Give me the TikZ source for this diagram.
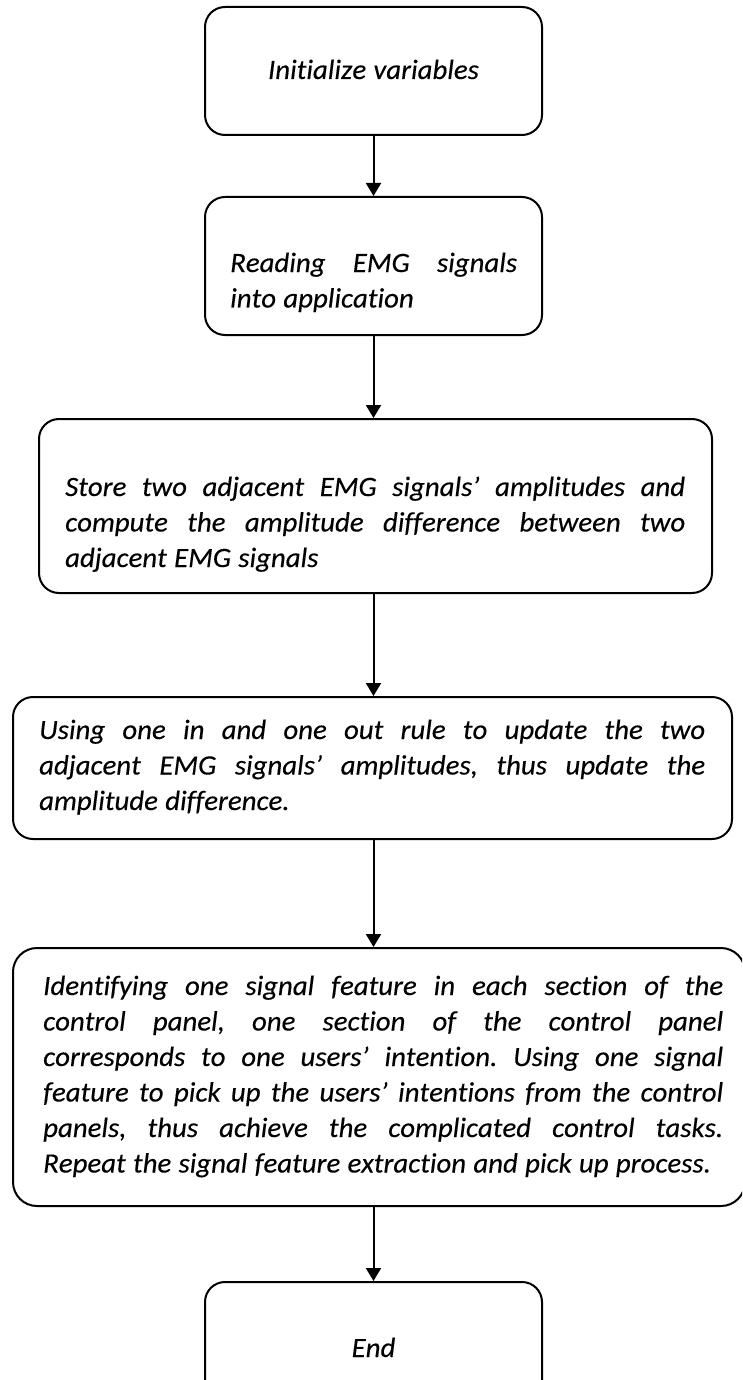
\documentclass[tikz,border=0pt]{standalone}
\usepackage{fontspec}
\setmainfont{Carlito}[Ligatures={NoCommon}, Kerning=Off, FakeStretch=1.03, FakeBold=0.25]
\usetikzlibrary{arrows.meta}
\newcommand\jline[2]{\leavevmode\hbox to #1{\frenchspacing\spaceskip=0.26em plus 1fil\relax #2}}
\tikzset{
  box/.style={draw, line width=2pt, rounded corners=20pt, inner sep=0pt},
  txt/.style={inner sep=0pt, font=\fontsize{28}{35.5}\selectfont\itshape, align=left,
    execute at begin node={\frenchspacing\spaceskip=0.26em plus 0.05em\relax}},
  conn/.style={line width=2pt, -{Triangle[width=15pt,length=13pt]}}
}
\begin{document}
\begin{tikzpicture}[x=1pt,y=-1pt]
\useasboundingbox (0,0) rectangle (742,1380);
\clip (0,0) rectangle (742,1380);
% boxes
\node[box, minimum width=337pt, minimum height=128pt] (b1) at (373.5,71) {};
\node[box, minimum width=337pt, minimum height=138pt] (b2) at (373.5,266) {};
\node[box, minimum width=673pt, minimum height=174pt] (b3) at (375.5,506) {};
\node[box, minimum width=719pt, minimum height=142pt] (b4) at (372.5,768) {};
\node[box, rounded corners=24pt, minimum width=732pt, minimum height=258pt] (b5) at (379,1077) {};
\node[box, minimum width=337pt, minimum height=130pt] (b6) at (373.5,1347) {};
% texts
\node[txt, anchor=base] (t1) at (373.5,79) {Initialize variables};
\node[txt, text width=287pt, anchor=base west] (t2) at (230,272)
  {\jline{287pt}{Reading EMG signals}\\into application};
\node[txt, text width=620pt, anchor=base west] (t3) at (65,496)
  {\jline{620pt}{Store two adjacent EMG signals’ amplitudes and}\\
   \jline{620pt}{compute the amplitude difference between two}\\
   adjacent EMG signals};
\node[txt, text width=666pt, anchor=base west] (t4) at (39,739)
  {\jline{666pt}{Using one in and one out rule to update the two}\\
   \jline{666pt}{adjacent EMG signals’ amplitudes, thus update the}\\
   amplitude difference.};
\node[txt, text width=680pt, anchor=base west] (t5) at (43,995)
  {\jline{680pt}{Identifying one signal feature in each section of the}\\
   \jline{680pt}{control panel, one section of the control panel}\\
   \jline{680pt}{corresponds to one users’ intention. Using one signal}\\
   \jline{680pt}{feature to pick up the users’ intentions from the control}\\
   \jline{680pt}{panels, thus achieve the complicated control tasks.}\\
   Repeat the signal feature extraction and pick up process.};
\node[txt, anchor=base] (t6) at (373.5,1357) {End};
% connectors
\draw[conn] (b1.south) -- (b2.north);
\draw[conn] (b2.south) -- (b2.south |- b3.north);
\draw[conn] (b3.south -| b2.south) -- (b4.north -| b2.south);
\draw[conn] (b4.south -| b2.south) -- (b5.north -| b2.south);
\draw[conn] (b5.south -| b2.south) -- (b6.north);
\end{tikzpicture}
\end{document}
